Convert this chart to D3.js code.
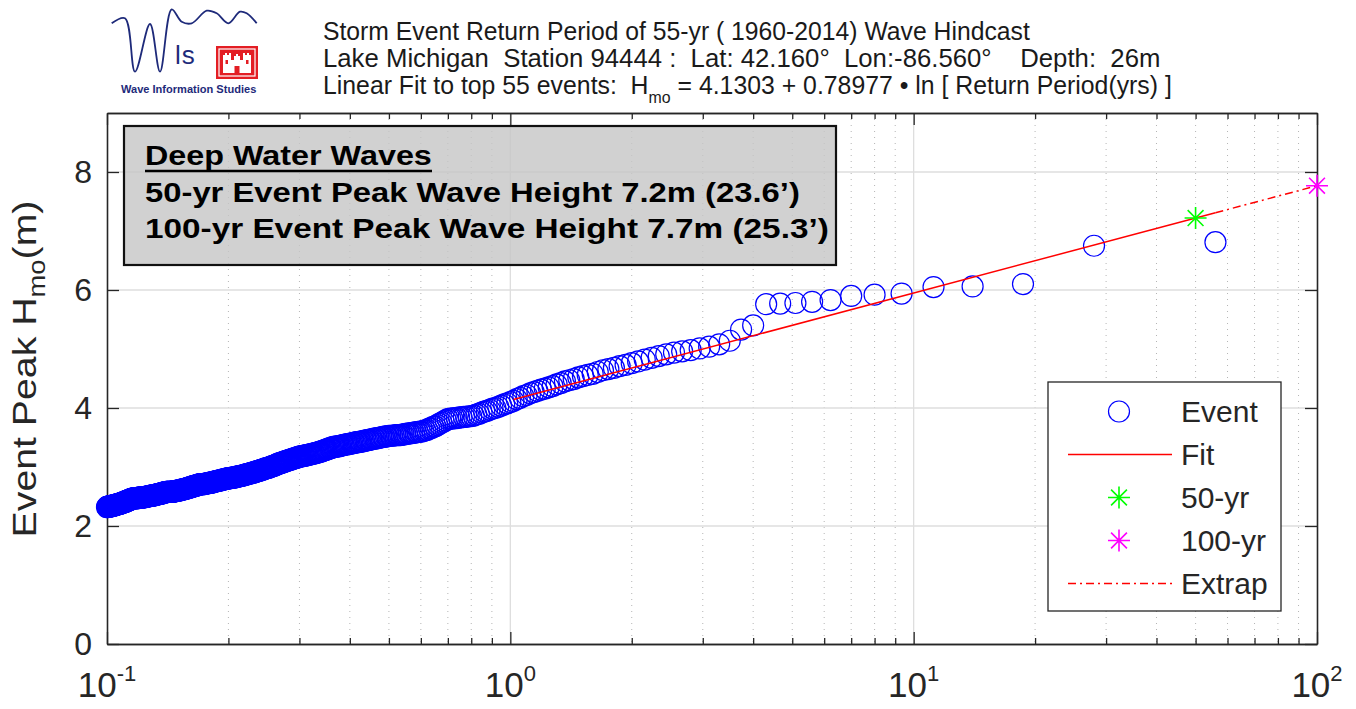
<!DOCTYPE html>
<html><head><meta charset="utf-8">
<script src="https://cdn.jsdelivr.net/npm/d3@7"></script>
<style>
body{margin:0;background:#fff;}
svg{display:block;font-family:"Liberation Sans",Arial,Helvetica,sans-serif;}
</style>
</head><body>
<svg id="chart" width="1356" height="709"></svg>
<script>
// ---------------- DATA ----------------
const plottingYears = 56;            // return period = plottingYears / rank
const fitCount = 55;                 // top 55 events used for the fit
const fitIntercept = 4.1303;
const fitSlope = 0.78977;
const returnLevelYears = [50, 100];
const returnLevelNames = ["50-yr", "100-yr"];
const returnLevelColors = ["#00ff00", "#ff00ff"];

// Event peak Hmo (m), ranked largest first (ranks 1-56)
const topEventsHmo = [
  6.81, 6.75, 6.10, 6.06, 6.05, 5.94, 5.92, 5.90, 5.83, 5.80,
  5.78, 5.77, 5.76, 5.40, 5.33, 5.14, 5.08, 5.04, 5.01, 4.98,
  4.96, 4.94, 4.91, 4.88, 4.85, 4.82, 4.79, 4.76, 4.73, 4.71,
  4.68, 4.66, 4.64, 4.61, 4.58, 4.56, 4.54, 4.52, 4.49, 4.47,
  4.45, 4.42, 4.40, 4.37, 4.35, 4.33, 4.31, 4.29, 4.27, 4.25,
  4.22, 4.20, 4.17, 4.15, 4.12, 4.10
];
// ranks 57-560
const lowerEventsHmo = [
  4.08, 4.06, 4.04, 4.02,
  4.00, 3.99, 3.97, 3.95, 3.94, 3.92, 3.90, 3.89, 3.87, 3.86,
  3.86, 3.85, 3.85, 3.84, 3.84, 3.83, 3.83, 3.82, 3.82, 3.81,
  3.79, 3.77, 3.75, 3.73, 3.71, 3.69, 3.68, 3.66, 3.65, 3.63,
  3.62, 3.61, 3.60, 3.60, 3.59, 3.59, 3.58, 3.58, 3.57, 3.57,
  3.56, 3.56, 3.55, 3.55, 3.54, 3.54, 3.54, 3.54, 3.53, 3.53, 3.53, 3.53,
  3.52, 3.52, 3.51, 3.51, 3.50, 3.50, 3.49, 3.49, 3.48, 3.48, 3.47, 3.47, 3.46, 3.46, 3.45,
  3.45, 3.44, 3.44, 3.43, 3.43, 3.42, 3.42, 3.42, 3.41, 3.41, 3.40, 3.40, 3.39, 3.39,
  3.39, 3.38, 3.38, 3.37, 3.37, 3.36, 3.36, 3.35, 3.35, 3.35, 3.34, 3.34, 3.34,
  3.33, 3.32, 3.32, 3.31, 3.30, 3.30, 3.29, 3.28, 3.28, 3.27, 3.26, 3.26, 3.25, 3.25, 3.24,
  3.24, 3.23, 3.23, 3.22, 3.22, 3.22, 3.21, 3.21, 3.20, 3.20, 3.20, 3.19, 3.19, 3.19, 3.18, 3.18, 3.18,
  3.17, 3.17, 3.16, 3.16, 3.15, 3.15, 3.14, 3.14, 3.13, 3.13, 3.12, 3.12, 3.11, 3.11, 3.10, 3.10, 3.09, 3.09,
  3.08, 3.08, 3.07, 3.07, 3.06, 3.06, 3.05, 3.05, 3.04, 3.03, 3.03, 3.02, 3.02, 3.01, 3.01, 3.00, 3.00, 2.99, 2.99, 2.98, 2.98,
  2.98, 2.97, 2.97, 2.96, 2.96, 2.95, 2.95, 2.95, 2.94, 2.94, 2.93, 2.93, 2.93, 2.92, 2.92, 2.91, 2.91, 2.91, 2.90, 2.90, 2.90, 2.89, 2.89,
  2.89, 2.88, 2.88, 2.88, 2.87, 2.87, 2.87, 2.86, 2.86, 2.86, 2.85, 2.85, 2.85, 2.85, 2.84, 2.84, 2.84, 2.84, 2.83, 2.83,
  2.83, 2.83, 2.82, 2.82, 2.82, 2.82, 2.82, 2.81, 2.81, 2.81, 2.81,
  2.81, 2.81, 2.80, 2.80, 2.80, 2.80, 2.79, 2.79, 2.79, 2.79,
  2.78, 2.78, 2.78, 2.78, 2.77, 2.77, 2.77, 2.77, 2.76, 2.76,
  2.76, 2.76, 2.75, 2.75, 2.75, 2.75, 2.74, 2.74, 2.74, 2.74,
  2.73, 2.73, 2.73, 2.73, 2.73, 2.72, 2.72, 2.72, 2.72, 2.72,
  2.72, 2.71, 2.71, 2.71, 2.71, 2.71, 2.71, 2.71, 2.71, 2.71,
  2.70, 2.70, 2.70, 2.70, 2.69, 2.69, 2.69, 2.69, 2.68, 2.68,
  2.68, 2.68, 2.67, 2.67, 2.67, 2.66, 2.66, 2.66, 2.66, 2.65,
  2.65, 2.65, 2.65, 2.64, 2.64, 2.64, 2.64, 2.63, 2.63, 2.63,
  2.63, 2.62, 2.62, 2.62, 2.62, 2.62, 2.61, 2.61, 2.61, 2.61,
  2.61, 2.60, 2.60, 2.60, 2.60, 2.60, 2.60, 2.59, 2.59, 2.59,
  2.59, 2.59, 2.59, 2.59, 2.58, 2.58, 2.58, 2.58, 2.58, 2.58,
  2.58, 2.58, 2.58, 2.58, 2.58, 2.58, 2.58, 2.58, 2.58,
  2.58, 2.57, 2.57, 2.57, 2.57, 2.57, 2.56, 2.56, 2.56, 2.56,
  2.56, 2.55, 2.55, 2.55, 2.55, 2.55, 2.54, 2.54, 2.54, 2.54,
  2.54, 2.54, 2.53, 2.53, 2.53, 2.53, 2.53, 2.53, 2.52, 2.52,
  2.52, 2.52, 2.52, 2.52, 2.52, 2.51, 2.51, 2.51, 2.51, 2.51,
  2.51, 2.51, 2.50, 2.50, 2.50, 2.50, 2.50, 2.50, 2.50, 2.50,
  2.49, 2.49, 2.49, 2.49, 2.49, 2.49, 2.49, 2.49, 2.49, 2.48,
  2.48, 2.48, 2.48, 2.48, 2.48, 2.48, 2.48, 2.48, 2.48, 2.48,
  2.47, 2.47, 2.47, 2.47, 2.47, 2.47, 2.47, 2.47, 2.47, 2.47,
  2.47, 2.47, 2.47, 2.47, 2.47,
  2.46, 2.46, 2.46, 2.46, 2.45, 2.45, 2.45, 2.45, 2.44, 2.44,
  2.44, 2.44, 2.43, 2.43, 2.43, 2.43, 2.42, 2.42, 2.42, 2.42,
  2.41, 2.41, 2.41, 2.41, 2.40, 2.40, 2.40, 2.40, 2.40, 2.39,
  2.39, 2.39, 2.39, 2.39, 2.38, 2.38, 2.38, 2.38, 2.38, 2.37,
  2.37, 2.37, 2.37, 2.37, 2.37, 2.36, 2.36, 2.36, 2.36, 2.36,
  2.36, 2.35, 2.35, 2.35, 2.35, 2.35, 2.35, 2.35, 2.34, 2.34,
  2.34, 2.34, 2.34, 2.34, 2.34, 2.34, 2.33, 2.33, 2.33, 2.33,
  2.33, 2.33, 2.33, 2.33, 2.33, 2.32, 2.32
];

const xDomain = [0.1, 100];
const yDomain = [0, 9];
const xTickValues = [0.1, 1, 10, 100];
const xTickExponents = ["-1", "0", "1", "2"];
const yTickValues = [0, 2, 4, 6, 8];

const titleLines = [
  "Storm Event Return Period of 55-yr ( 1960-2014) Wave Hindcast",
  "Lake Michigan  Station 94444 :  Lat: 42.160\u00B0  Lon:-86.560\u00B0    Depth:  26m"
];
const fitLabelParts = ["Linear Fit to top 55 events:  H", "mo", " = 4.1303 + 0.78977 \u2022 ln [ Return Period(yrs) ]"];
const boxLines = [
  "Deep Water Waves",
  "50-yr Event Peak Wave Height 7.2m (23.6\u2019)",
  "100-yr Event Peak Wave Height 7.7m (25.3\u2019)"
];
const legendLabels = ["Event", "Fit", "50-yr", "100-yr", "Extrap"];
const yLabelParts = ["Event Peak H", "mo", "(m)"];
const logoCaption = "Wave Information Studies";

// ---------------- DRAWING ----------------
const svg = d3.select("#chart");
const AX = "#262626";
const plotL = 107, plotR = 1317, plotT = 113, plotB = 644;
const x = d3.scaleLog().domain(xDomain).range([plotL, plotR]);
const y = d3.scaleLinear().domain(yDomain).range([plotB, plotT]);

const isPow10 = v => Math.abs(Math.log10(v) - Math.round(Math.log10(v))) < 1e-9;
const minorTicks = x.ticks().filter(v => !isPow10(v));

function scaleToWidth(sel, target) {
  const w = sel.node().getBBox().width;
  const k = target / w;
  const x0 = +sel.attr("x") || 0;
  sel.attr("transform", `translate(${x0},0) scale(${k},1) translate(${-x0},0)`);
}

// grid
const grid = svg.append("g");
grid.selectAll(".mg").data(minorTicks).join("line")
  .attr("x1", d => x(d)).attr("x2", d => x(d)).attr("y1", plotT).attr("y2", plotB)
  .attr("stroke", "#b5b5b5").attr("stroke-width", 1).attr("stroke-dasharray", "1,5");
grid.selectAll(".xg").data(xTickValues.filter(v => v > xDomain[0] && v < xDomain[1])).join("line")
  .attr("x1", d => x(d)).attr("x2", d => x(d)).attr("y1", plotT).attr("y2", plotB)
  .attr("stroke", "#dedede").attr("stroke-width", 1.3);
grid.selectAll(".yg").data(yTickValues.filter(v => v > yDomain[0])).join("line")
  .attr("x1", plotL).attr("x2", plotR).attr("y1", d => y(d)).attr("y2", d => y(d))
  .attr("stroke", "#dedede").attr("stroke-width", 1.3);

// axes (box with inward ticks)
function styleAxis(g) {
  g.select(".domain").attr("stroke", AX).attr("stroke-width", 1.6);
  g.selectAll(".tick line").attr("stroke", AX).attr("stroke-width", 1.3);
}
const axG = svg.append("g");
axG.append("g").attr("transform", `translate(0,${plotB})`)
  .call(d3.axisBottom(x).tickValues(minorTicks).tickSize(-6).tickSizeOuter(0).tickFormat("")).call(styleAxis);
axG.append("g").attr("transform", `translate(0,${plotB})`)
  .call(d3.axisBottom(x).tickValues(xTickValues).tickSize(-12).tickSizeOuter(0).tickFormat("")).call(styleAxis);
axG.append("g").attr("transform", `translate(0,${plotT})`)
  .call(d3.axisTop(x).tickValues(minorTicks).tickSize(-6).tickSizeOuter(0).tickFormat("")).call(styleAxis);
axG.append("g").attr("transform", `translate(0,${plotT})`)
  .call(d3.axisTop(x).tickValues(xTickValues).tickSize(-12).tickSizeOuter(0).tickFormat("")).call(styleAxis);
const leftAx = axG.append("g").attr("transform", `translate(${plotL},0)`)
  .call(d3.axisLeft(y).tickValues(yTickValues).tickSize(-12).tickSizeOuter(0).tickPadding(15)).call(styleAxis);
leftAx.selectAll(".tick text").attr("font-size", 32).attr("fill", AX)
  .attr("font-family", "'Liberation Sans',Arial,sans-serif");
axG.append("g").attr("transform", `translate(${plotR},0)`)
  .call(d3.axisRight(y).tickValues(yTickValues).tickSize(-12).tickSizeOuter(0).tickFormat("")).call(styleAxis);

// x tick labels 10^n
const xl = svg.append("g");
xTickValues.forEach((v, i) => {
  const t = xl.append("text").attr("x", x(v)).attr("y", 697).attr("text-anchor", "middle")
    .attr("fill", AX).attr("font-size", 35);
  t.append("tspan").text("10");
  t.append("tspan").attr("font-size", 22).attr("dy", -16).text(xTickExponents[i]);
});

// y label
const yl = svg.append("text").attr("x", 0).attr("y", 0).attr("text-anchor", "middle")
  .attr("fill", AX).attr("font-size", 33);
yl.append("tspan").text(yLabelParts[0]);
yl.append("tspan").attr("font-size", 23).attr("dy", 9).text(yLabelParts[1]);
yl.append("tspan").attr("dy", -9).text(yLabelParts[2]);
{
  const w = yl.node().getBBox().width;
  const k = 337 / w;
  yl.attr("transform", `translate(36,369) rotate(-90) scale(${k},1)`);
}

// events
const events = topEventsHmo.concat(lowerEventsHmo).map((h, i) => ({ T: plottingYears / (i + 1), H: h }));
svg.append("g").selectAll("circle").data(events).join("circle")
  .attr("cx", d => x(d.T)).attr("cy", d => y(d.H)).attr("r", 10.5)
  .attr("fill", "none").attr("stroke", "#0000ff").attr("stroke-width", 1.2);

// fit & extrapolation
const fitH = T => fitIntercept + fitSlope * Math.log(T);
const line = d3.line().x(d => x(d)).y(d => y(fitH(d)));
const fitStart = plottingYears / fitCount, fitEnd = plottingYears;
svg.append("path").attr("d", line([fitStart, fitEnd])).attr("fill", "none")
  .attr("stroke", "#ff0000").attr("stroke-width", 1.5);
svg.append("path").attr("d", line([fitEnd, returnLevelYears[1]])).attr("fill", "none")
  .attr("stroke", "#ff0000").attr("stroke-width", 1.5).attr("stroke-dasharray", "8,4,2,4");

function starPath(r) {
  const d = r * 0.72;
  return `M0,${-r}L0,${r}M${-r},0L${r},0M${-d},${-d}L${d},${d}M${-d},${d}L${d},${-d}`;
}
returnLevelYears.forEach((T, i) => {
  svg.append("path").attr("d", starPath(11))
    .attr("transform", `translate(${x(T)},${y(fitH(T))})`)
    .attr("fill", "none").attr("stroke", returnLevelColors[i]).attr("stroke-width", 1.6);
});

// annotation box
svg.append("rect").attr("x", 124).attr("y", 126).attr("width", 712).attr("height", 139)
  .attr("fill", "#c6c6c6").attr("fill-opacity", 0.8).attr("stroke", "#111").attr("stroke-width", 2.2);
const boxTargets = [287, 655, 684];
const boxBase = [165, 202, 238];
boxLines.forEach((s, i) => {
  const t = svg.append("text").attr("x", 145).attr("y", boxBase[i]).attr("font-size", 28)
    .attr("font-weight", "bold").attr("fill", "#000").text(s);
  scaleToWidth(t, boxTargets[i]);
});
svg.append("line").attr("x1", 145).attr("x2", 145 + boxTargets[0]).attr("y1", 171).attr("y2", 171)
  .attr("stroke", "#000").attr("stroke-width", 2.5);

// legend
const lg = svg.append("g");
lg.append("rect").attr("x", 1048).attr("y", 382).attr("width", 233).attr("height", 229)
  .attr("fill", "#fff").attr("stroke", AX).attr("stroke-width", 1.3);
const ly = i => 411.5 + i * 43;
lg.append("circle").attr("cx", 1119).attr("cy", ly(0)).attr("r", 10.5)
  .attr("fill", "none").attr("stroke", "#0000ff").attr("stroke-width", 1.2);
lg.append("line").attr("x1", 1068).attr("x2", 1172).attr("y1", ly(1)).attr("y2", ly(1))
  .attr("stroke", "#ff0000").attr("stroke-width", 1.5);
returnLevelColors.forEach((c, i) => {
  lg.append("path").attr("d", starPath(11)).attr("transform", `translate(1119,${ly(2 + i)})`)
    .attr("fill", "none").attr("stroke", c).attr("stroke-width", 1.6);
});
lg.append("line").attr("x1", 1068).attr("x2", 1172).attr("y1", ly(4)).attr("y2", ly(4))
  .attr("stroke", "#ff0000").attr("stroke-width", 1.5).attr("stroke-dasharray", "8,4,2,4");
legendLabels.forEach((s, i) => {
  lg.append("text").attr("x", 1181).attr("y", ly(i) + 10.5).attr("font-size", 30)
    .attr("fill", AX).text(s);
});

// title lines
const titleTargets = [707, 838, 849];
const titleBase = [40, 67, 94];
titleLines.forEach((s, i) => {
  const t = svg.append("text").attr("x", 323).attr("y", titleBase[i]).attr("font-size", 25)
    .attr("fill", "#1a1a1a").style("white-space", "pre").text(s);
  scaleToWidth(t, titleTargets[i]);
});
{
  const t = svg.append("text").attr("x", 323).attr("y", titleBase[2]).attr("font-size", 25)
    .attr("fill", "#1a1a1a").style("white-space", "pre");
  t.append("tspan").text(fitLabelParts[0]);
  t.append("tspan").attr("font-size", 16).attr("dy", 9).text(fitLabelParts[1]);
  t.append("tspan").attr("dy", -9).text(fitLabelParts[2]);
  scaleToWidth(t, titleTargets[2]);
}

// logo
const logo = svg.append("g");
const wavePts = [[111.7,23.3],[125,18.3],[135,71.7],[150,24],[160,71.7],[171.7,9.3],[181.7,21.7],
  [191.7,23.3],[206.7,10.7],[216.7,13.3],[228.3,23.3],[240,11.7],[246.7,13.3],[256.7,23.3]];
logo.append("path").attr("d", d3.line().curve(d3.curveCatmullRom)(wavePts))
  .attr("fill", "none").attr("stroke", "#1e2a7a").attr("stroke-width", 1.8);
logo.append("text").attr("x", 175).attr("y", 64).attr("font-size", 26).attr("fill", "#1e2a7a")
  .attr("letter-spacing", 1).text("ls");
logo.append("rect").attr("x", 216).attr("y", 46).attr("width", 42).attr("height", 33).attr("fill", "#e31e24");
logo.append("rect").attr("x", 219).attr("y", 49).attr("width", 36).attr("height", 27)
  .attr("fill", "none").attr("stroke", "#fff").attr("stroke-width", 1.2);
logo.append("path").attr("fill", "#fff").attr("d",
  "M223,73 L223,55 L225,55 L225,53 L227,53 L227,55 L229,55 L229,53 L231,53 L231,60 L234,60 L234,56 L236,56 L236,54 L238,54 L238,56 L240,56 L240,60 L243,60 L243,53 L245,53 L245,55 L247,55 L247,53 L249,53 L249,55 L251,55 L251,73 Z");
logo.append("rect").attr("x", 234.5).attr("y", 66).attr("width", 5).attr("height", 7).attr("fill", "#e31e24");
logo.append("rect").attr("x", 225.5).attr("y", 60).attr("width", 2.5).attr("height", 4).attr("fill", "#e31e24");
logo.append("rect").attr("x", 246).attr("y", 60).attr("width", 2.5).attr("height", 4).attr("fill", "#e31e24");
{
  const t = logo.append("text").attr("x", 121).attr("y", 93).attr("font-size", 10)
    .attr("font-weight", "bold").attr("fill", "#1e2a7a").text(logoCaption);
  scaleToWidth(t, 136);
}
</script>
</body></html>
